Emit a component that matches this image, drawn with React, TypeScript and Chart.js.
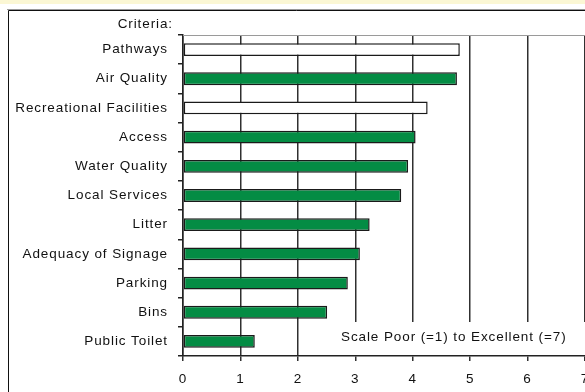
import React, { useEffect, useRef } from "react";
import { Chart, registerables } from "chart.js";

Chart.register(...registerables);

const categories = [
  "Pathways",
  "Air Quality",
  "Recreational Facilities",
  "Access",
  "Water Quality",
  "Local Services",
  "Litter",
  "Adequacy of Signage",
  "Parking",
  "Bins",
  "Public Toilet",
];
const scores = [4.82, 4.77, 4.26, 4.05, 3.92, 3.8, 3.25, 3.08, 2.87, 2.51, 1.25];
const unfilledCategories = ["Pathways", "Recreational Facilities"];
const xTicks = [0, 1, 2, 3, 4, 5, 6, 7];
const axisHeading = "Criteria:";
const scaleNote = "Scale Poor (=1) to Excellent (=7)";

const GREEN = "#048c44";
const FONT = "Arial, 'Liberation Sans', sans-serif";
const SPACING = "0.9px";
const FSIZE = 13.5;

const decorPlugin = {
  id: "decor",
  beforeUpdate(chart: any) {
    (chart.ctx as any).letterSpacing = SPACING;
  },
  beforeDraw(chart: any) {
    const ctx = chart.ctx;
    (ctx as any).letterSpacing = SPACING;
    ctx.save();
    ctx.fillStyle = "#ffffff";
    ctx.fillRect(0, 0, chart.width, chart.height);
    ctx.fillStyle = "#fbf7d4";
    ctx.fillRect(0, 0, chart.width, 4);
    ctx.strokeStyle = "#999";
    ctx.lineWidth = 1;
    ctx.beginPath();
    ctx.moveTo(7, 9.5);
    ctx.lineTo(chart.width, 9.5);
    ctx.stroke();
    ctx.strokeStyle = "#111";
    ctx.beginPath();
    ctx.moveTo(8.5, 10.5);
    ctx.lineTo(chart.width, 10.5);
    ctx.moveTo(8.5, 10.5);
    ctx.lineTo(8.5, chart.height);
    ctx.stroke();
    ctx.restore();
  },
  afterDraw(chart: any) {
    const ctx = chart.ctx;
    const area = chart.chartArea;
    ctx.save();
    (ctx as any).letterSpacing = SPACING;
    ctx.strokeStyle = "#9a9a9a";
    ctx.lineWidth = 1;
    ctx.beginPath();
    ctx.moveTo(area.left, Math.round(area.top) + 0.5);
    ctx.lineTo(area.right, Math.round(area.top) + 0.5);
    ctx.stroke();
    ctx.fillStyle = "#ffffff";
    ctx.fillRect(335, 322, chart.width - 335, area.bottom - 1 - 322);
    ctx.fillStyle = "#111";
    ctx.font = `${FSIZE}px ${FONT}`;
    ctx.textBaseline = "middle";
    ctx.textAlign = "right";
    ctx.fillText(axisHeading, 173, 24);
    ctx.textAlign = "left";
    ctx.fillText(scaleNote, 341, 337);
    ctx.restore();
  },
};

export default function App() {
  const ref = useRef<HTMLCanvasElement | null>(null);
  useEffect(() => {
    if (!ref.current) return;
    const chart = new Chart(ref.current, {
      type: "bar",
      data: {
        labels: categories,
        datasets: [
          {
            data: scores,
            backgroundColor: categories.map((c) =>
              unfilledCategories.includes(c) ? "#ffffff" : GREEN
            ),
            borderColor: "#1a1a1a",
            borderWidth: 1.5,
            borderSkipped: false,
            barPercentage: 0.44,
            categoryPercentage: 1,
          },
        ],
      },
      options: {
        indexAxis: "y",
        responsive: false,
        animation: false,
        devicePixelRatio: 1,
        layout: { padding: { top: 35, left: 0, right: 0, bottom: 0 } },
        plugins: {
          legend: { display: false },
          tooltip: { enabled: false },
          title: { display: false },
        },
        scales: {
          x: {
            type: "linear",
            min: xTicks[0],
            max: xTicks[xTicks.length - 1],
            afterBuildTicks(scale: any) {
              scale.ticks = xTicks.map((v) => ({ value: v }));
            },
            afterFit(scale: any) {
              scale.height = 36;
              scale.paddingLeft = 0;
              scale.paddingRight = 0;
            },
            grid: {
              color: "#303030",
              lineWidth: 1.5,
              tickLength: 5,
              drawOnChartArea: true,
            },
            border: { color: "#222", width: 1.5 },
            ticks: {
              color: "#111",
              font: { family: FONT, size: FSIZE },
              padding: 10,
              maxRotation: 0,
              autoSkip: false,
            },
          },
          y: {
            type: "category",
            afterFit(scale: any) {
              scale.width = 183;
            },
            grid: {
              drawOnChartArea: false,
              tickLength: 5,
              color: "#222",
              lineWidth: 1.5,
              offset: true,
            },
            border: { color: "#222", width: 1.5 },
            ticks: {
              color: "#111",
              font: { family: FONT, size: FSIZE },
              padding: 10,
              autoSkip: false,
            },
          },
        },
      },
      plugins: [decorPlugin],
    } as any);
    return () => chart.destroy();
  }, []);
  return (
    <div style={{ position: "fixed", left: 0, top: 0, width: 585, height: 392 }}>
      <canvas ref={ref} width={585} height={392} style={{ width: 585, height: 392, display: "block" }} />
    </div>
  );
}
